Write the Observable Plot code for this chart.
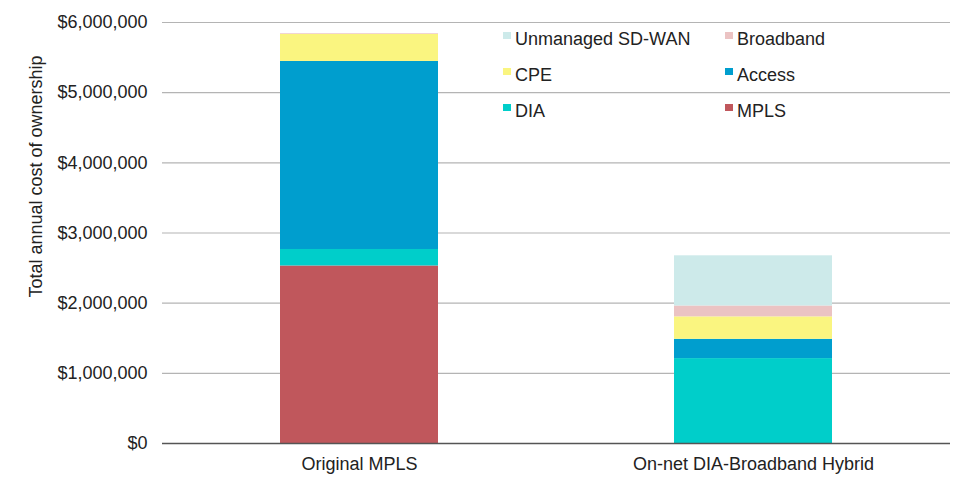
<!DOCTYPE html>
<html>
<head>
<meta charset="utf-8">
<script src="https://cdn.jsdelivr.net/npm/d3@7"></script>
<script src="https://cdn.jsdelivr.net/npm/@observablehq/plot@0.6"></script>
<style>
  html, body { margin: 0; padding: 0; background: #fff; }
  #wrap { position: relative; width: 975px; height: 485px; font-family: "Liberation Sans", Arial, Helvetica, sans-serif; }
  #wrap svg text { font-size: 18px; fill: #222; }
  #legend { position: absolute; left: 0; top: 0; width: 975px; height: 485px; pointer-events: none; font-size: 18px; color: #222; }
  .item { position: absolute; white-space: nowrap; line-height: 18px; }
  .sw { position: absolute; width: 8px; height: 7px; left: -12px; top: 2px; }
</style>
</head>
<body>
<div id="wrap"><div id="legend"></div></div>
<script>
const scenarios = ["Original MPLS", "On-net DIA-Broadband Hybrid"];
const components = ["MPLS", "DIA", "Access", "CPE", "Broadband", "Unmanaged SD-WAN"];
const colors = ["#C0575C", "#00CECA", "#009ECE", "#FAF580", "#EBC3C3", "#CDEAEA"];

const mpls      = [2530000, 0];
const dia       = [235000, 1210000];
const access    = [2680000, 275000];
const cpe       = [385000, 320000];
const broadband = [10000, 155000];
const sdwan     = [0, 715000];

const yTicks = [0, 1000000, 2000000, 3000000, 4000000, 5000000, 6000000];
const yLabel = "Total annual cost of ownership";

// legend layout: [row, col] order as in reference
const legendOrder = ["Unmanaged SD-WAN", "Broadband", "CPE", "Access", "DIA", "MPLS"];

const series = [mpls, dia, access, cpe, broadband, sdwan];
const table = [];
components.forEach((c, i) => {
  scenarios.forEach((s, j) => {
    table.push({scenario: s, component: c, value: series[i][j]});
  });
});

const fmt = d => "$" + d3.format(",")(d);

const chart = Plot.plot({
  width: 975,
  height: 485,
  marginLeft: 162,
  marginRight: 25,
  marginTop: 22,
  marginBottom: 42,
  style: {fontSize: "18px", fontFamily: "'Liberation Sans', Arial, Helvetica, sans-serif", color: "#222", background: "#fff"},
  x: {domain: scenarios, padding: 0, label: null, tickSize: 0, tickPadding: 14},
  y: {domain: [0, 6000000], ticks: yTicks, tickFormat: fmt, tickSize: 0, tickPadding: 15, label: null},
  color: {domain: components, range: colors},
  marks: [
    Plot.ruleY(yTicks.slice(1), {stroke: "#b4b4b4", strokeWidth: 1.2}),
    Plot.barY(table, Plot.stackY({x: "scenario", y: "value", fill: "component", order: components, insetLeft: 118, insetRight: 118})),
    Plot.ruleY([0], {stroke: "#555", strokeWidth: 1.6}),
    Plot.text([yLabel], {text: d => d, frameAnchor: "top-left", textAnchor: "middle", dx: -133, dy: 154, rotate: -90, fontSize: 18, fill: "#222"})
  ]
});
const wrap = document.getElementById("wrap");
wrap.insertBefore(chart, wrap.firstChild);

// legend
const legend = document.getElementById("legend");
const colX = [515, 737];
const rowY = [30, 66, 102];
legendOrder.forEach((name, k) => {
  const r = Math.floor(k / 2), c = k % 2;
  const div = document.createElement("div");
  div.className = "item";
  div.style.left = colX[c] + "px";
  div.style.top = rowY[r] + "px";
  const sw = document.createElement("span");
  sw.className = "sw";
  sw.style.background = colors[components.indexOf(name)];
  div.appendChild(sw);
  div.appendChild(document.createTextNode(name));
  legend.appendChild(div);
});
</script>
</body>
</html>
